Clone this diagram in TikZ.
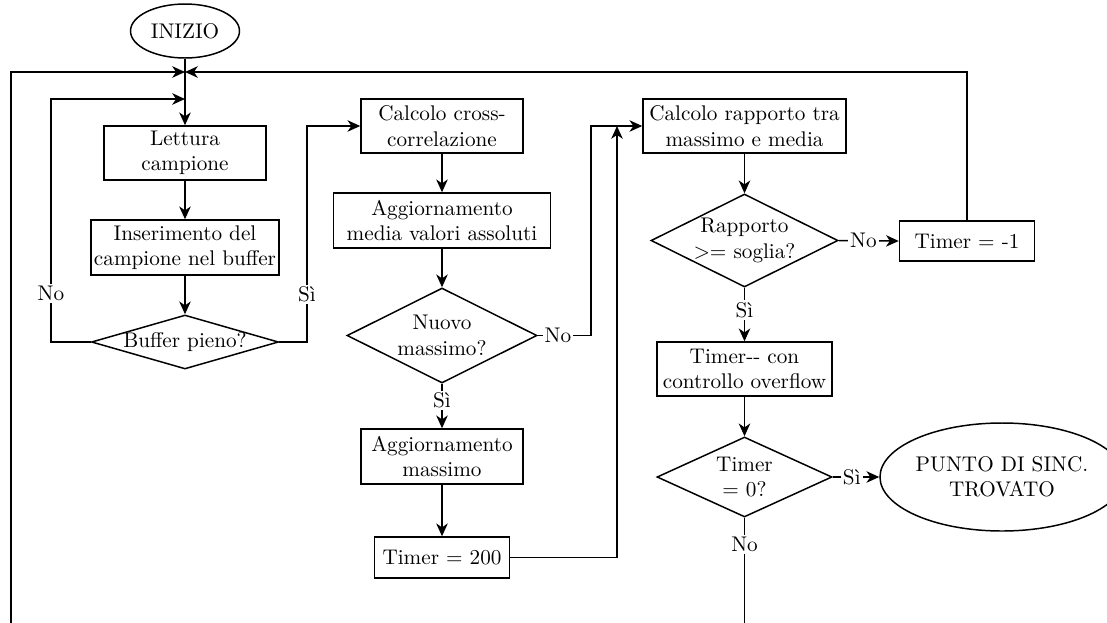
\documentclass[tikz,border=0pt]{standalone}
\usetikzlibrary{shapes.geometric,arrows.meta}
\begin{document}
\begin{tikzpicture}[x=0.4717pt,y=-0.4717pt,
  every node/.style={font=\normalsize},
  sz/.style 2 args={minimum width=#1*0.4717pt, minimum height=#2*0.4717pt},
  box/.style={draw, rectangle, align=center, inner sep=0pt, line width=0.7pt},
  dec/.style={draw, diamond, align=center, inner sep=-1pt, line width=0.7pt},
  term/.style={draw, ellipse, align=center, inner sep=0pt, line width=0.7pt},
  lab/.style={fill=white, inner sep=1pt},
  ln/.style={line width=0.7pt},
  arr/.style={ln, -{Stealth[length=6pt,width=5.4pt,inset=1.8pt]}}]
\useasboundingbox (0,0) rectangle (1107,623);
% nodes
\node[term, sz={109}{54}] (inizio) at (185,31) {INIZIO};
\node[box, sz={162}{54}] (lettura) at (185,153) {Lettura\\campione};
\node[box, sz={188}{55}] (inser) at (185,247.5) {Inserimento del\\campione nel buffer};
\node[dec, aspect=3.46, sz={187}{54}] (buffer) at (185,342) {Buffer pieno?};
\node[box, sz={162}{54}] (calc1) at (442,126) {Calcolo cross-\\correlazione};
\node[box, sz={217}{55}] (aggmed) at (442,220.5) {Aggiornamento\\media valori assoluti};
\node[dec, aspect=2, sz={190}{95}] (nuovo) at (442,335.5) {Nuovo\\massimo?};
\node[box, sz={162}{55}] (aggmax) at (442,456.5) {Aggiornamento\\massimo};
\node[box, sz={135}{41}] (t200) at (442,557.5) {Timer = 200};
\node[box, sz={203}{54}] (calc2) at (744.5,126) {Calcolo rapporto tra\\massimo e media};
\node[dec, aspect=2, sz={187}{93}] (rapp) at (744.5,240.5) {Rapporto\\>= soglia?};
\node[box, sz={135}{40}] (tm1) at (967,241) {Timer = -1};
\node[box, sz={175}{54}] (tdec) at (744.5,369) {Timer-{}- con\\controllo overflow};
\node[dec, aspect=2.19, sz={175}{80}] (tzero) at (744.5,477) {Timer\\= 0?};
\node[term, sz={208}{108}] (punto) at (1002,477) {PUNTO DI SINC.\\TROVATO};
% junction coordinates
\coordinate (j1) at (185,72);
\coordinate (j2) at (185,99);
\coordinate (botL) at (11,623);
\coordinate (c1) at (51,99);
\coordinate (c2) at (307,126);
\coordinate (c3) at (591,126);
\coordinate (j3) at (617,126);
\coordinate (botR) at (744.5,623);
% connectors
\draw[arr] (inizio.south) -- (lettura.north);
\draw[arr] (botL) |- (j1);
\draw[arr] (tm1.north) |- (j1);
\draw[arr] (buffer.west) -| node[lab, pos=0.6] {No} (c1) -- (j2);
\draw[arr] (buffer.east) -| node[lab, pos=0.61] {Sì} (c2) -- (calc1.west);
\draw[arr] (lettura) -- (inser);
\draw[arr] (inser) -- (buffer);
\draw[arr] (calc1) -- (aggmed);
\draw[arr] (aggmed) -- (nuovo);
\draw[arr] (nuovo.south) -- node[lab, pos=0.38] {Sì} (aggmax.north);
\draw[arr] (aggmax) -- (t200);
\draw[arr] (nuovo.east) -| node[lab, pos=0.19] {No} (c3) -- (calc2.west);
\draw[arr] (t200.east) -| (j3);
\draw[arr] (calc2) -- (rapp);
\draw[arr] (rapp.east) -- node[lab, pos=0.41] {No} (tm1.west);
\draw[arr] (rapp.south) -- node[lab, pos=0.42] {Sì} (tdec.north);
\draw[arr] (tdec) -- (tzero);
\draw[arr] (tzero.east) -- node[lab, pos=0.41] {Sì} (punto.west);
\draw[ln] (tzero.south) -- node[lab, pos=0.25] {No} (botR);
\end{tikzpicture}
\end{document}
